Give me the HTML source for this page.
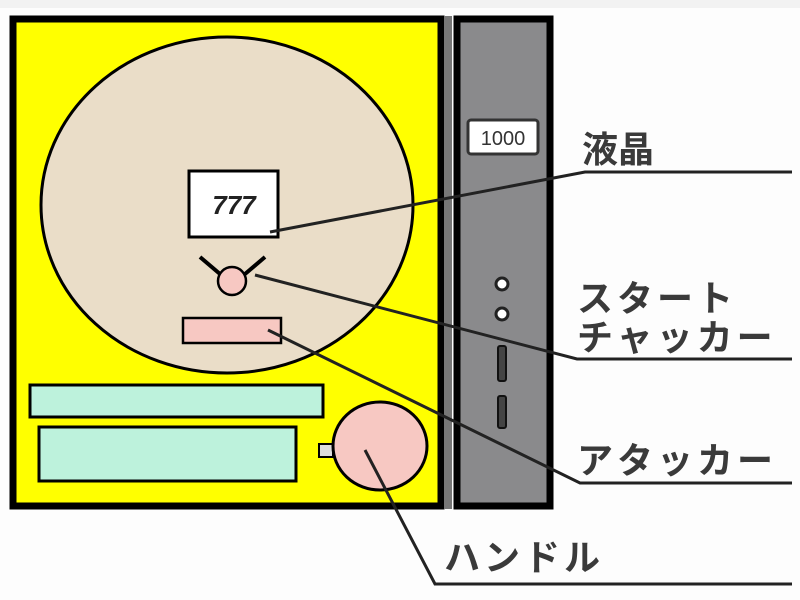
<!DOCTYPE html>
<html><head><meta charset="utf-8"><style>
html,body{margin:0;padding:0;background:#fff;width:800px;height:600px;overflow:hidden}
</style></head><body>
<svg width="800" height="600" viewBox="0 0 800 600" xmlns="http://www.w3.org/2000/svg">
<rect x="0" y="0" width="800" height="600" fill="#fdfdfd"/>
<rect x="0" y="0" width="800" height="8" fill="#f2f2f2"/>
<rect x="13" y="19" width="428" height="487" fill="#ffff00" stroke="#000" stroke-width="7"/>
<rect x="444" y="16" width="8" height="493" fill="#777"/>
<rect x="457" y="19" width="93" height="487" fill="#8a8a8c" stroke="#000" stroke-width="7"/>
<rect x="468" y="120" width="70" height="34" rx="3" fill="#fff" stroke="#333" stroke-width="3"/>
<text x="503" y="145" font-family="Liberation Sans, sans-serif" font-size="20" fill="#333" text-anchor="middle">1000</text>
<circle cx="502" cy="284" r="6" fill="#fff" stroke="#222" stroke-width="3"/>
<circle cx="502" cy="314" r="6" fill="#fff" stroke="#222" stroke-width="3"/>
<rect x="498" y="346" width="8" height="35" rx="2" fill="#444" stroke="#111" stroke-width="2"/>
<rect x="498" y="396" width="8" height="32" rx="2" fill="#444" stroke="#111" stroke-width="2"/>
<ellipse cx="227" cy="205" rx="186" ry="168" fill="#eaddc8" stroke="#000" stroke-width="3"/>
<rect x="189" y="171" width="89" height="66" fill="#fff" stroke="#000" stroke-width="3"/>
<text x="234" y="214" font-family="Liberation Sans, sans-serif" font-size="26" font-weight="bold" font-style="italic" fill="#222" text-anchor="middle">777</text>
<line x1="200" y1="257" x2="220" y2="274" stroke="#000" stroke-width="4"/>
<line x1="265" y1="257" x2="245" y2="274" stroke="#000" stroke-width="4"/>
<circle cx="232" cy="281" r="14" fill="#f7c8c2" stroke="#000" stroke-width="2.5"/>
<rect x="183" y="318" width="98" height="25" fill="#f7c8c2" stroke="#000" stroke-width="2.5"/>
<rect x="30" y="385" width="293" height="32" fill="#bdf2dc" stroke="#000" stroke-width="3"/>
<rect x="39" y="427" width="257" height="54" fill="#bdf2dc" stroke="#000" stroke-width="3"/>
<rect x="319" y="444" width="14" height="13" fill="#ddd" stroke="#000" stroke-width="2"/>
<ellipse cx="380" cy="446" rx="47" ry="44" fill="#f7c8c2" stroke="#000" stroke-width="3"/>
<g stroke="#222" stroke-width="3" fill="none">
<polyline points="270,232 585,172 792,172"/>
<polyline points="255,275 577,359 792,359"/>
<polyline points="268,330 580,483 792,483"/>
<polyline points="365,450 435,584 792,584"/>
</g>
<g font-family="Liberation Sans, 'Noto Sans CJK JP', sans-serif" font-size="36" font-weight="bold" fill="#3a3a3a">
<text x="582" y="162">液晶</text>
<text x="577" y="311" letter-spacing="4">スタート</text>
<text x="577" y="350" letter-spacing="4">チャッカー</text>
<text x="577" y="473" letter-spacing="4">アタッカー</text>
<text x="444" y="570" letter-spacing="4">ハンドル</text>
</g>
</svg>
</body></html>
